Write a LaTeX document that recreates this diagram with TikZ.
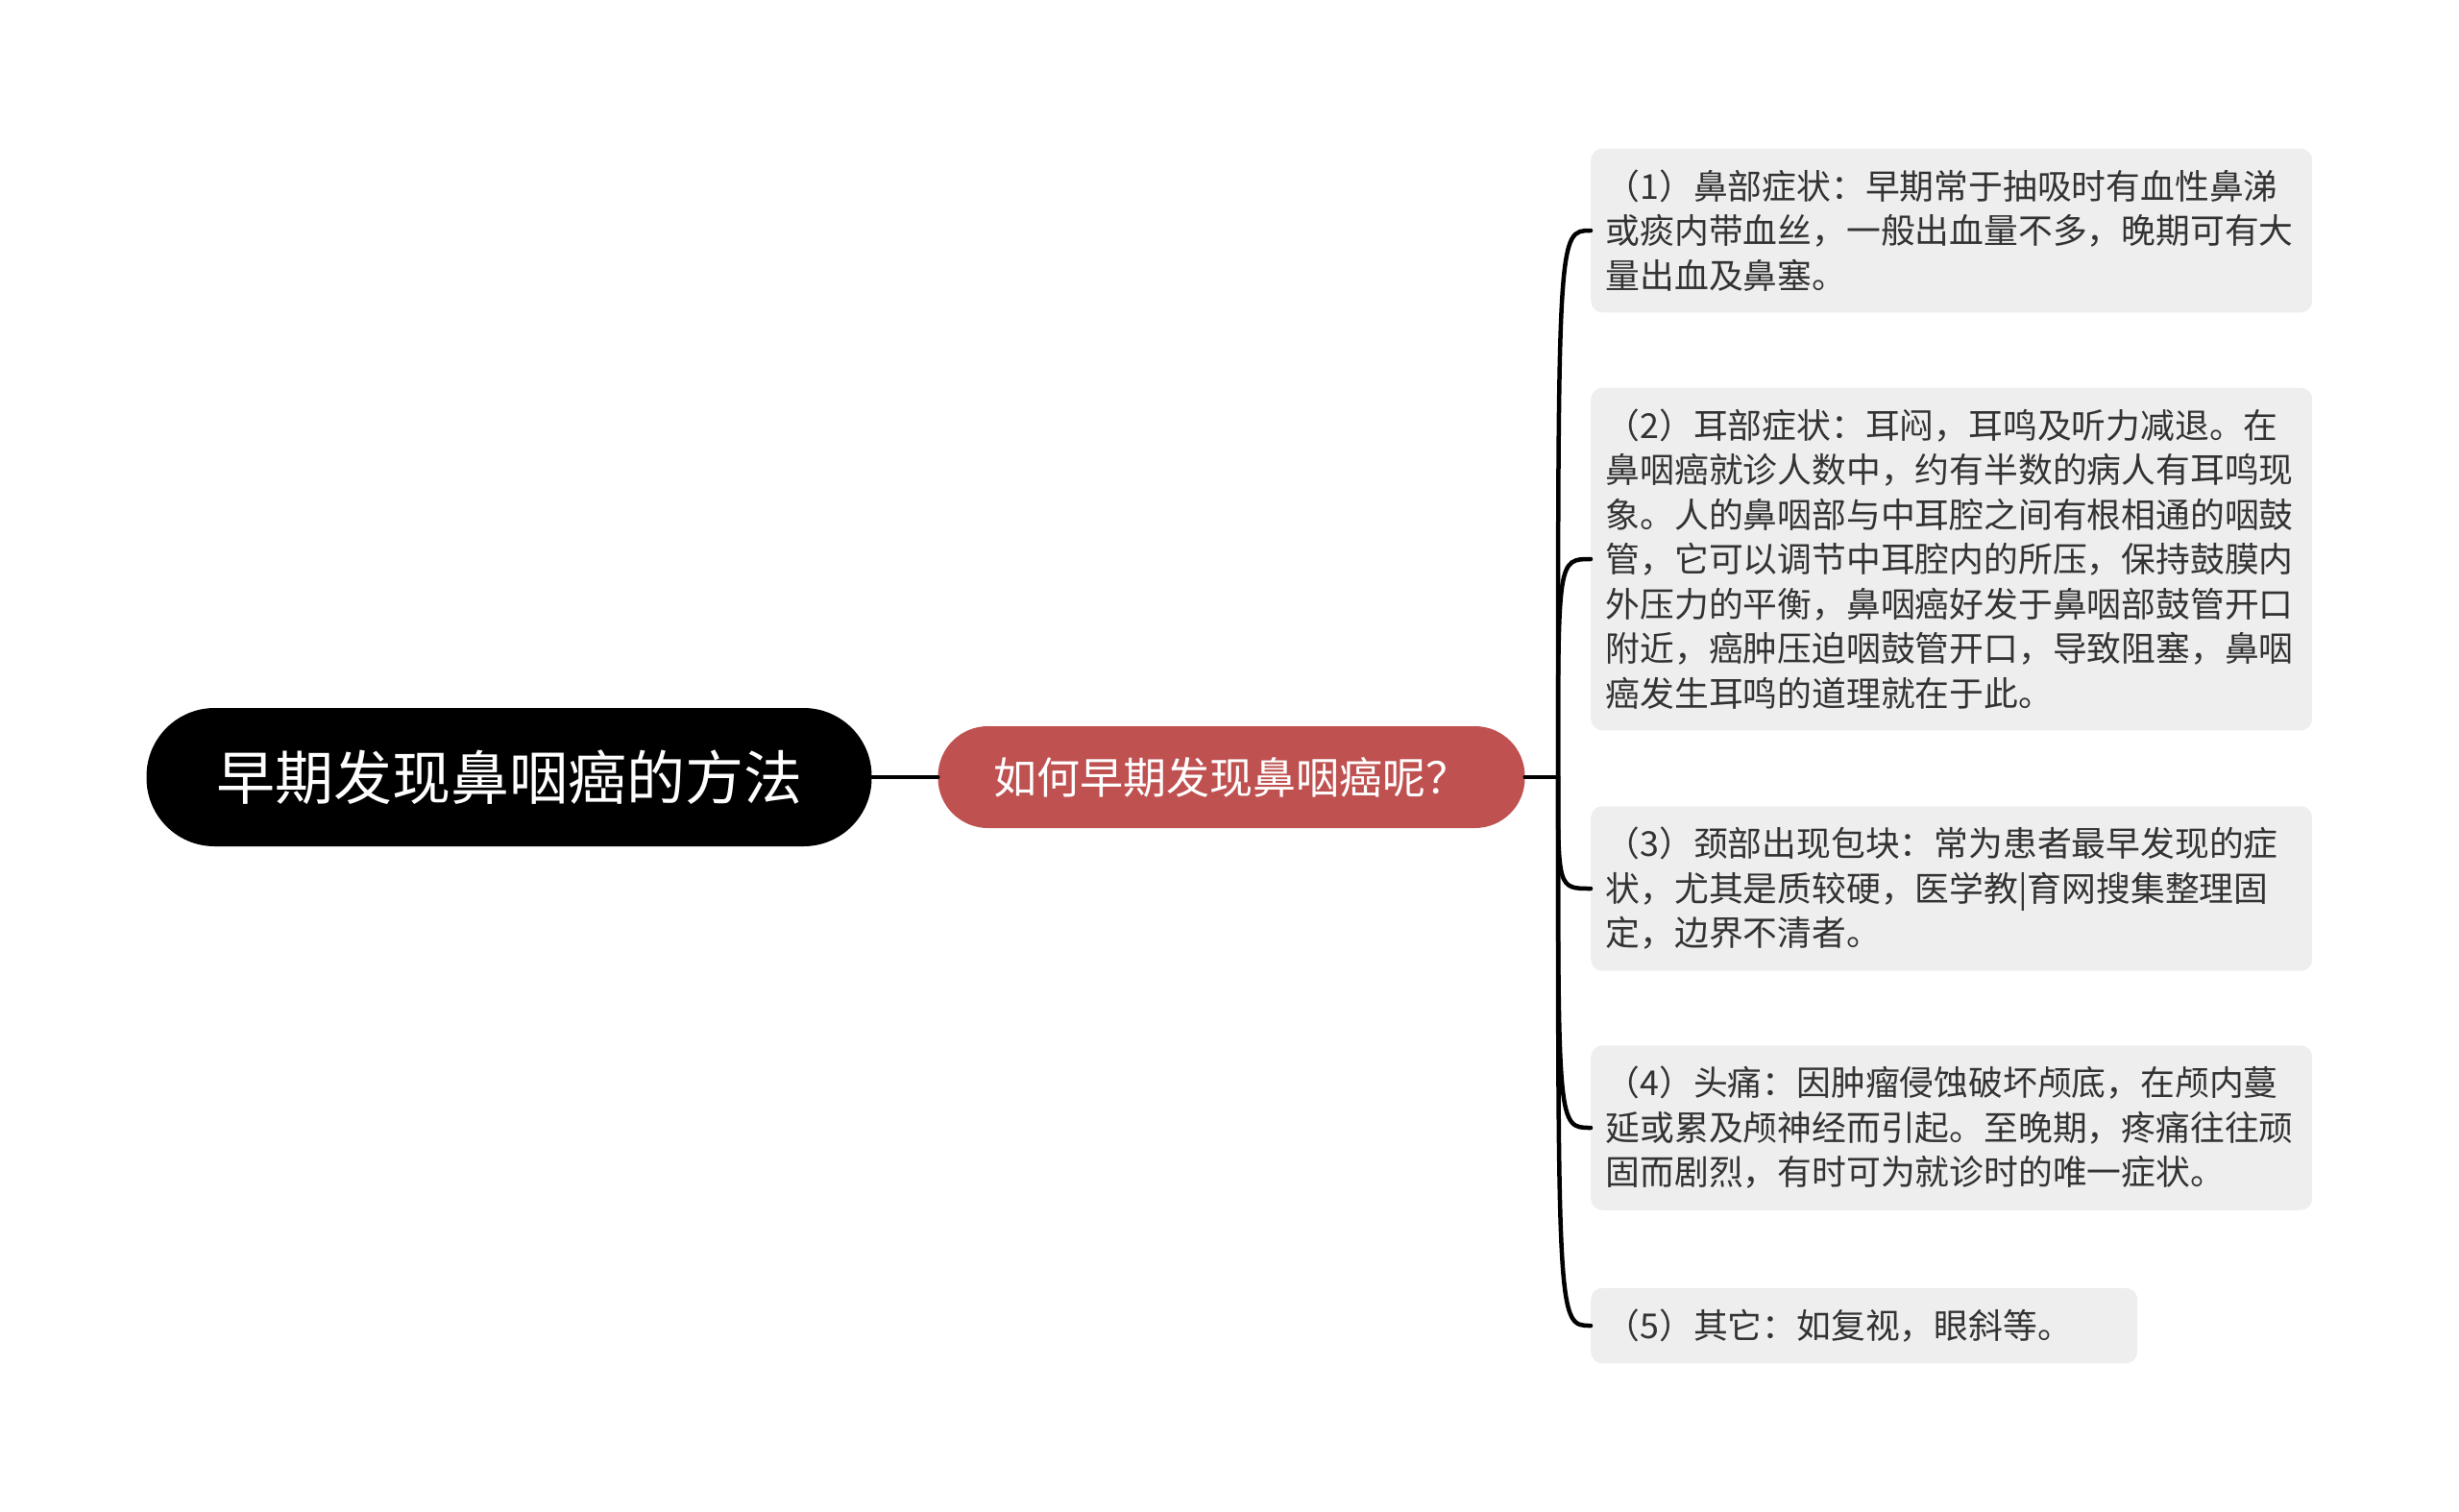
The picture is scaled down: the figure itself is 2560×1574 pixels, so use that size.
\documentclass[tikz,border=0pt]{standalone}
\usepackage{fontspec}
\newfontfamily\cjk{Noto Sans CJK SC}
\definecolor{topicred}{HTML}{BF5151}
\definecolor{leafgray}{HTML}{EEEEEE}
\definecolor{leaftext}{HTML}{333333}
\tikzset{
  rootnode/.style={fill=black, text=white, rounded corners=71pt,
    minimum width=755pt, minimum height=144pt,
    font=\cjk\fontsize{61}{70}\selectfont},
  topicnode/.style={fill=topicred, text=white, rounded corners=52pt,
    minimum width=611pt, minimum height=106pt,
    font=\cjk\fontsize{45}{52}\selectfont},
  leafnode/.style={fill=leafgray, text=leaftext, rounded corners=12pt,
    anchor=west, align=left, text width=720pt, inner xsep=15.5pt,
    inner ysep=22pt, font=\cjk\fontsize{35.8}{46.5}\selectfont},
  branch/.style={line width=4.5pt, line cap=round}
}
\begin{document}
\begin{tikzpicture}[x=1pt, y=-1pt]
  \useasboundingbox (0,0) rectangle (2560,1574);

  % main topic and its subtopic
  \node[rootnode] (root) at (530,809) {早期发现鼻咽癌的方法};
  \node[topicnode] (topic) at (1282,809) {如何早期发现鼻咽癌呢？};
  \coordinate (hub) at (1622,809);

  % the five symptoms
  \node[leafnode] (l1) at (1656,240)
    {（1）鼻部症状：早期常于抽吸时有血性鼻涕\\或痰内带血丝，一般出血量不多，晚期可有大\\量出血及鼻塞。};
  \node[leafnode] (l2) at (1656,582)
    {（2）耳部症状：耳闷，耳鸣及听力减退。在\\鼻咽癌就诊人数中，约有半数的病人有耳鸣现\\象。人的鼻咽部与中耳腔之间有根相通的咽鼓\\管，它可以调节中耳腔内的所压，保持鼓膜内\\外压力的平衡，鼻咽癌好发于鼻咽部鼓管开口\\附近，癌肿压迫咽鼓管开口，导致阻塞，鼻咽\\癌发生耳鸣的道理就在于此。};
  \node[leafnode] (l3) at (1656,925)
    {（3）颈部出现包块：常为患者最早发现的症\\状，尤其是质较硬，医学教|育网搜集整理固\\定，边界不清者。};
  \node[leafnode] (l4) at (1656,1174)
    {（4）头痛：因肿瘤侵蚀破坏颅底，在颅内蔓\\延或累及颅神经而引起。至晚期，疼痛往往顽\\固而剧烈，有时可为就诊时的唯一症状。};
  \node[leafnode, text width=538pt] (l5) at (1656,1380)
    {（5）其它：如复视，眼斜等。};

  % connectors
  \draw[branch] (root.east) -- (topic.west);
  \draw[branch] (topic.east) -- (hub);
  \foreach \i in {1,...,5}
    \draw[branch] (hub) .. controls (hub |- l\i.west) .. (l\i.west);
\end{tikzpicture}
\end{document}
